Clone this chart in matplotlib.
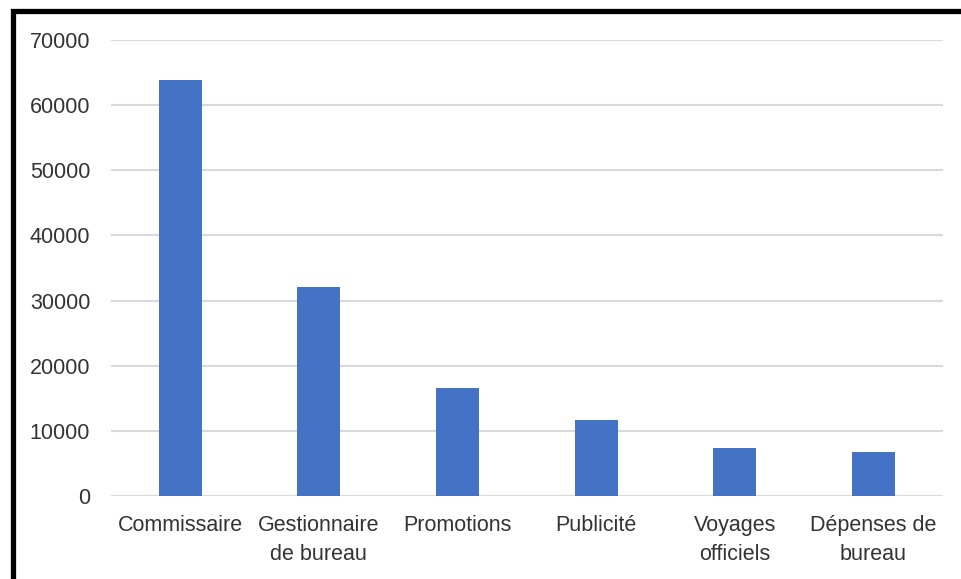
import matplotlib.pyplot as plt
from matplotlib.patches import Rectangle

categories = ['Commissaire', 'Gestionnaire\nde bureau', 'Promotions', 'Publicité',
              'Voyages\nofficiels', 'Dépenses de\nbureau']
values = [63900, 32100, 16600, 11700, 7400, 6700]
yticks = [0, 10000, 20000, 30000, 40000, 50000, 60000, 70000]

plt.rcParams['font.family'] = ['Liberation Sans', 'DejaVu Sans']

fig = plt.figure(figsize=(9.61, 5.79), dpi=100)
ax = fig.add_axes([0.1155, 0.1434, 0.8655, 0.7875])

x = range(len(categories))
ax.bar(x, values, width=0.31, color='#4472C4', zorder=3)

ax.set_ylim(0, 70000)
ax.set_xlim(-0.5, len(categories) - 0.5)
ax.set_yticks(yticks)
ax.set_xticks(list(x))
ax.set_xticklabels(categories, linespacing=1.45)
ax.grid(axis='y', color='#d9d9d9', linewidth=1.5, zorder=0)
for s in ax.spines.values():
    s.set_visible(False)
ax.tick_params(length=0, labelsize=15.5, labelcolor='#333333')
ax.tick_params(axis='x', pad=14)
ax.tick_params(axis='y', pad=15)

# black frame visible on left and top edges
fig.patches.append(Rectangle((12.5 / 961, -0.1), 1.2, 1.1 - 10.5 / 579,
                             transform=fig.transFigure, fill=False,
                             edgecolor='black', linewidth=3.8, clip_on=False))

fig.savefig('out.png', dpi=100)
